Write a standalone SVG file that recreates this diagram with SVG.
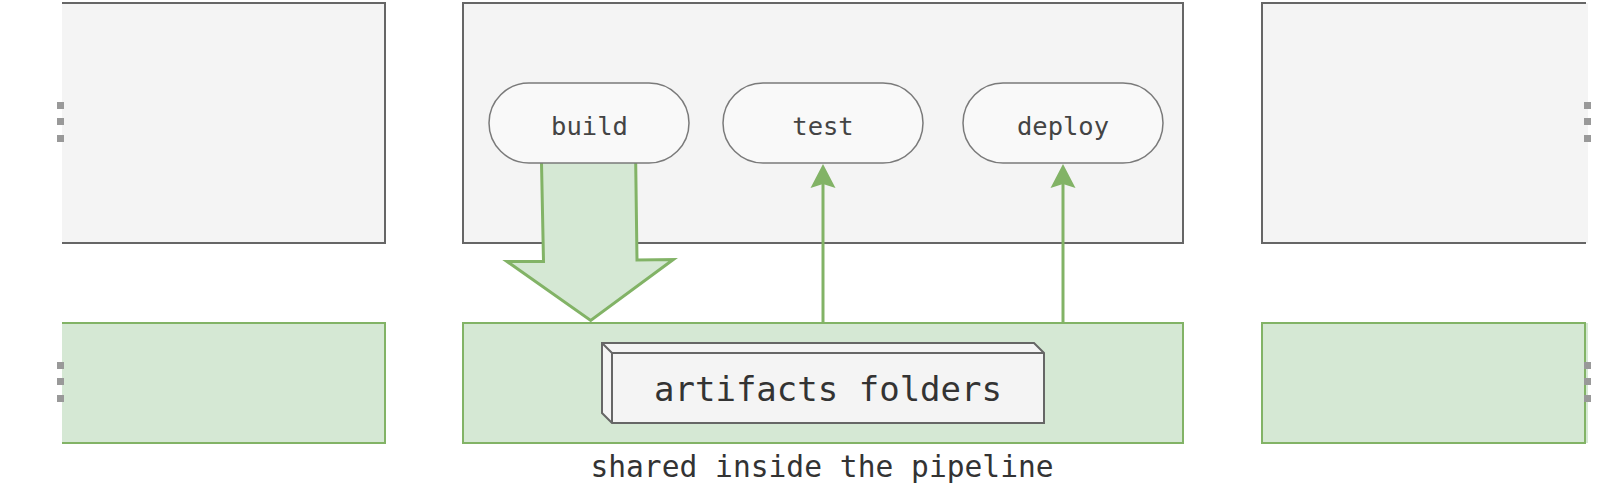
<svg xmlns="http://www.w3.org/2000/svg" width="1604" height="486" viewBox="0 0 1604 486">
<style>
.stage{fill:#f4f4f4;stroke:none}
.stageln{fill:none;stroke:#666666;stroke-width:2}
.store{fill:#d5e8d4;stroke:none}
.storeln{fill:none;stroke:#82b366;stroke-width:2}
.dot{fill:#999999}
.pill{fill:#f9f9f9;stroke:#7a7a7a;stroke-width:1.5}
.pt{font-family:"DejaVu Sans Mono","Liberation Mono",monospace;font-size:25.5px;fill:#444444;text-anchor:middle}
.big{font-family:"DejaVu Sans Mono","Liberation Mono",monospace;font-size:34px;fill:#333333;text-anchor:middle}
.cap{font-family:"DejaVu Sans Mono","Liberation Mono",monospace;font-size:29.6px;fill:#333333;text-anchor:middle}
.link{fill:none;stroke:#82b366;stroke-width:3}
.head{fill:#82b366;stroke:none}
</style>
<rect width="1604" height="486" fill="#ffffff"/>
<g id="stage-left">
<rect class="stage" x="62" y="3" width="323" height="240"/>
<polyline class="stageln" points="62,3 385,3 385,243 62,243"/>
<rect class="dot" x="57" y="102" width="7" height="7"/>
<rect class="dot" x="57" y="118" width="7" height="7"/>
<rect class="dot" x="57" y="135" width="7" height="7"/>
</g>
<g id="store-left">
<rect class="store" x="62" y="323" width="323" height="120"/>
<polyline class="storeln" points="62,323 385,323 385,443 62,443"/>
<rect class="dot" x="57" y="362" width="7" height="7"/>
<rect class="dot" x="57" y="378" width="7" height="7"/>
<rect class="dot" x="57" y="395" width="7" height="7"/>
</g>
<g id="stage-center">
<rect class="stage" x="463" y="3" width="720" height="240"/>
<rect class="stageln" x="463" y="3" width="720" height="240"/>
</g>
<g id="store-center">
<rect class="store" x="463" y="323" width="720" height="120"/>
<rect class="storeln" x="463" y="323" width="720" height="120"/>
</g>
<g id="stage-right">
<rect class="stage" x="1262" y="3" width="326" height="240"/>
<polyline class="stageln" points="1586,3 1262,3 1262,243 1586,243"/>
<rect class="dot" x="1584" y="102" width="7" height="7"/>
<rect class="dot" x="1584" y="118" width="7" height="7"/>
<rect class="dot" x="1584" y="135" width="7" height="7"/>
</g>
<g id="store-right">
<rect class="store" x="1262" y="323" width="326" height="120"/>
<rect class="storeln" x="1262" y="323" width="323" height="120"/>
<rect class="dot" x="1584" y="362" width="7" height="7"/>
<rect class="dot" x="1584" y="378" width="7" height="7"/>
<rect class="dot" x="1584" y="395" width="7" height="7"/>
</g>
<g id="connectors">
<path d="M541.5,163 L543.5,261.5 L507,261.5 L590.7,320.5 L673.3,259.5 L637,260 L635.7,163" fill="#d5e8d4" stroke="#82b366" stroke-width="3" stroke-linejoin="miter"/>
<line class="link" x1="823" y1="323" x2="823" y2="184"/>
<path class="head" d="M823,164 L835.5,188 L823,184 L810.5,188 Z"/>
<line class="link" x1="1063" y1="323" x2="1063" y2="184"/>
<path class="head" d="M1063,164 L1075.5,188 L1063,184 L1050.5,188 Z"/>
</g>
<g id="build">
<rect class="pill" x="489" y="83" width="200" height="80" rx="40" ry="40"/>
<text class="pt" x="589.5" y="134.5">build</text>
</g>
<g id="test">
<rect class="pill" x="723" y="83" width="200" height="80" rx="40" ry="40"/>
<text class="pt" x="823" y="134.5">test</text>
</g>
<g id="deploy">
<rect class="pill" x="963" y="83" width="200" height="80" rx="40" ry="40"/>
<text class="pt" x="1063" y="134.5">deploy</text>
</g>
<g id="artifacts">
<path d="M602,343 L1034,343 L1044,353 L1044,423 L612,423 L602,413 Z" fill="#f4f4f4" stroke="#666666" stroke-width="2" stroke-linejoin="miter"/>
<path d="M602,343 L612,353 L1044,353 M612,353 L612,423" fill="none" stroke="#666666" stroke-width="2"/>
<text class="big" x="828" y="400.5">artifacts folders</text>
</g>
<g id="caption">
<text class="cap" x="822" y="477">shared inside the pipeline</text>
</g>
</svg>
